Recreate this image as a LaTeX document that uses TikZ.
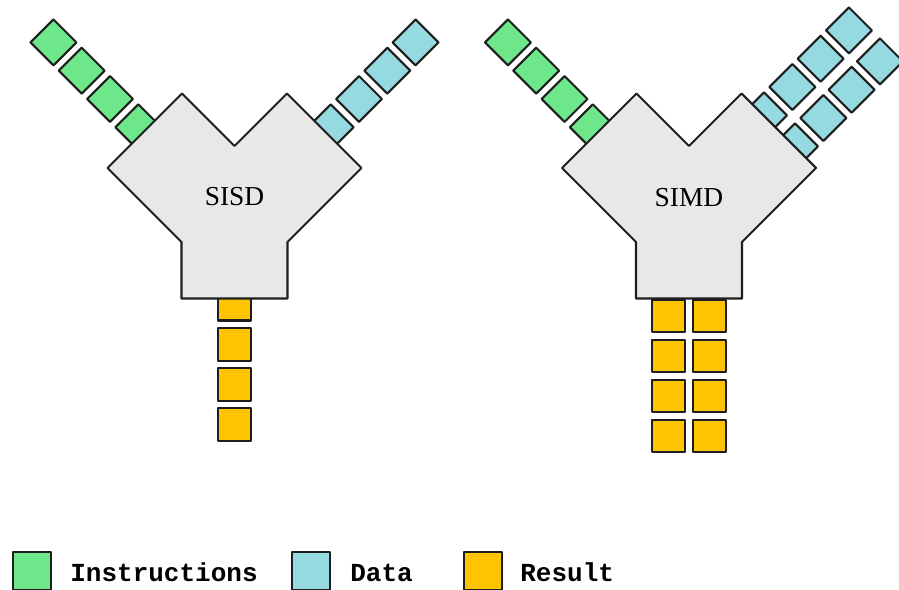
\documentclass[tikz,border=0pt]{standalone}
\usepackage{fontspec}
\setmainfont{Liberation Serif}
\setmonofont{Liberation Mono}
\definecolor{instrgreen}{RGB}{110,230,138}
\definecolor{datablue}{RGB}{150,218,225}
\definecolor{resorange}{RGB}{255,196,0}
\definecolor{coregray}{RGB}{232,232,232}
\definecolor{edgegray}{RGB}{30,30,30}
\begin{document}
\begin{tikzpicture}[x=.2mm, y=-.2mm, line join=round,
    cell/.style={draw=edgegray, line width=.42mm, minimum size=6.5mm, inner sep=0pt},
    tilt/.style={cell, rotate=45},
    core/.style={draw=edgegray, line width=.42mm, fill=coregray},
    corelabel/.style={inner sep=0pt, font=\fontsize{15.6}{18}\selectfont},
    legbox/.style={draw=edgegray, line width=.42mm, minimum width=7.6mm, minimum height=7.6mm, inner sep=0pt},
    legtext/.style={anchor=base west, inner sep=0pt, font=\ttfamily\bfseries\fontsize{14.8}{18}\selectfont}]
  \useasboundingbox (0,0) rectangle (899,590);
  % instructions (same on both)
  \foreach \cx/\nm in {234.5/sisd, 689/simd}
    \foreach \k in {0,...,3}
      \node[tilt, fill=instrgreen] (\nm-i\k) at ({\cx-96.2-28.3*\k},{127.3-28.3*\k}) {};
  % data
  \foreach \k in {0,...,3} {
    \node[tilt, fill=datablue] (sisd-d\k) at ({330.7+28.3*\k},{127.3-28.3*\k}) {};
    \node[tilt, fill=datablue] (simd-da\k) at ({764+28.3*\k},{115.3-28.3*\k}) {};
    \node[tilt, fill=datablue] (simd-db\k) at ({795+28.3*\k},{146.3-28.3*\k}) {};
  }
  % results
  \foreach \k in {0,...,3} {
    \node[cell, fill=resorange] (sisd-r\k) at (234.5,{304.3+40*\k}) {};
    \node[cell, fill=resorange] (simd-ra\k) at (668.6,{316+40*\k}) {};
    \node[cell, fill=resorange] (simd-rb\k) at (709.4,{316+40*\k}) {};
  }
  % the two cores
  \foreach \cx in {234.5, 689}
    \draw[core] (\cx,146) -- ++(-52.5,-52.5) -- ++(-74.5,74.5) -- ++(74,74)
      -- ++(0,56.5) -- ++(106,0) -- ++(0,-56.5) -- ++(74,-74) -- ++(-74.5,-74.5) -- cycle;
  \node[corelabel] (sisd) at (234.5,197) {SISD};
  \node[corelabel] (simd) at (689,198) {SIMD};
  % legend
  \node[legbox, fill=instrgreen] (key-i) at (31.7,571) {};
  \node[legbox, fill=datablue] (key-d) at (310.7,571) {};
  \node[legbox, fill=resorange] (key-r) at (483,571) {};
  \path
  (70,581) node[legtext] (txt-i) {Instructions}
  (350,581) node[legtext] (txt-d) {Data}
  (520,581) node[legtext] (txt-r) {Result};
\end{tikzpicture}
\end{document}
